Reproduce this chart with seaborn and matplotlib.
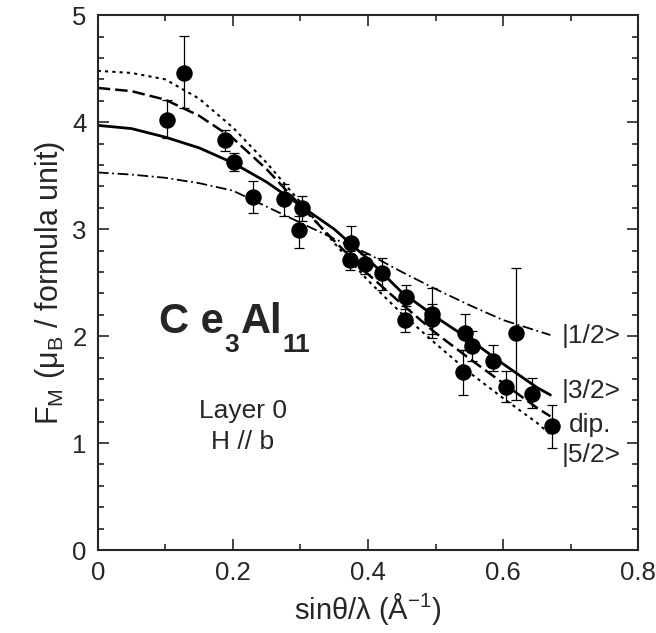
import numpy as np
import pandas as pd
import matplotlib
matplotlib.use("Agg")
import matplotlib.pyplot as plt
import seaborn as sns
from matplotlib.ticker import MultipleLocator

# measured points: x, F_M, upper end of error bar, lower end of error bar
pt_x = [0.103, 0.128, 0.189, 0.201, 0.230, 0.276, 0.302, 0.298, 0.375, 0.373, 0.396, 0.421,
        0.456, 0.454, 0.495, 0.495, 0.543, 0.554, 0.541, 0.585, 0.604, 0.619, 0.642, 0.672]
pt_y = [4.02, 4.46, 3.83, 3.63, 3.30, 3.28, 3.20, 2.99, 2.87, 2.71, 2.67, 2.59,
        2.37, 2.15, 2.21, 2.16, 2.03, 1.91, 1.66, 1.77, 1.52, 2.03, 1.46, 1.16]
pt_hi = [4.21, 4.81, 3.93, 3.71, 3.45, 3.42, 3.31, 3.12, 3.03, 2.80, 2.77, 2.73,
         2.48, 2.25, 2.45, 2.30, 2.21, 2.05, 1.87, 1.92, 1.67, 2.64, 1.61, 1.36]
pt_lo = [3.85, 4.13, 3.73, 3.54, 3.15, 3.12, 3.08, 2.82, 2.72, 2.62, 2.58, 2.43,
         2.28, 2.04, 1.98, 2.02, 1.87, 1.77, 1.45, 1.67, 1.38, 1.40, 1.33, 0.95]

# calculated form factors
curve_x = [0.0, 0.05, 0.1, 0.15, 0.2, 0.25, 0.3, 0.35, 0.4, 0.45, 0.5, 0.55, 0.6, 0.65, 0.67]
half_1 = [3.53, 3.51, 3.48, 3.43, 3.36, 3.21, 3.06, 2.91, 2.77, 2.60, 2.44, 2.29, 2.15, 2.05, 2.01]
half_3 = [3.97, 3.94, 3.86, 3.76, 3.62, 3.44, 3.22, 3.00, 2.72, 2.41, 2.18, 1.97, 1.74, 1.52, 1.45]
dipole = [4.32, 4.29, 4.21, 4.06, 3.85, 3.56, 3.22, 2.89, 2.58, 2.30, 2.03, 1.79, 1.56, 1.33, 1.25]
half_5 = [4.48, 4.46, 4.40, 4.22, 3.95, 3.62, 3.25, 2.87, 2.52, 2.21, 1.93, 1.66, 1.42, 1.19, 1.08]

curve_labels = ["|1/2>", "|3/2>", "dip.", "|5/2>"]
label_x = [0.686, 0.686, 0.698, 0.686]
label_y = [2.0, 1.49, 1.17, 0.89]

sns.set_style("ticks")
plt.rcParams["font.family"] = ["Liberation Sans", "DejaVu Sans"]
plt.rcParams["mathtext.fontset"] = "custom"
plt.rcParams["mathtext.rm"] = "Liberation Sans"
plt.rcParams["mathtext.it"] = "Liberation Sans:italic"

fig = plt.figure(figsize=(6.56, 6.33), dpi=100)
ax = fig.add_axes([0.149, 0.131, 0.824, 0.845])

styles = [(half_1, (0, (6, 2, 1, 2)), 1.3),
          (half_3, "-", 2.0),
          (dipole, (0, (5, 2)), 1.8),
          (half_5, (0, (1.5, 2)), 1.5)]
for vals, ls, lw in styles:
    sns.lineplot(x=curve_x, y=vals, ax=ax, color="black", linestyle=ls, linewidth=lw)

pts = pd.DataFrame({"x": pt_x, "y": pt_y, "hi": pt_hi, "lo": pt_lo})
ax.errorbar(pts["x"], pts["y"], yerr=[pts["y"] - pts["lo"], pts["hi"] - pts["y"]],
            fmt="none", ecolor="black", elinewidth=0.9, capsize=3.5, capthick=0.9)
sns.scatterplot(data=pts, x="x", y="y", ax=ax, color="black", s=120, edgecolor="black",
                zorder=5)

# curve labels at the right end
for lab, xv, yv in zip(curve_labels, label_x, label_y):
    ax.text(xv, yv, lab, fontsize=19, va="center", ha="left")

# compound name, pieced together so the subscripts drop like the original
t1 = ax.text(0.09, 2.03, "C e", fontsize=30, fontweight="bold", ha="left", va="baseline")
t2 = ax.annotate("3", xy=(1, 0), xycoords=t1, xytext=(1, -11), textcoords="offset points",
                 fontsize=19, fontweight="bold", va="bottom")
t3 = ax.annotate("Al", xy=(1, 0), xycoords=t2, xytext=(1, 11), textcoords="offset points",
                 fontsize=30, fontweight="bold", va="bottom")
ax.annotate("11", xy=(1, 0), xycoords=t3, xytext=(0, -11), textcoords="offset points",
            fontsize=19, fontweight="bold", va="bottom")

ax.text(0.215, 1.30, "Layer 0", fontsize=19, ha="center", va="center")
ax.text(0.215, 1.01, "H // b", fontsize=19, ha="center", va="center")

ax.set_xlim(0, 0.8)
ax.set_ylim(0, 5)
ax.xaxis.set_major_locator(MultipleLocator(0.2))
ax.xaxis.set_minor_locator(MultipleLocator(0.1))
ax.yaxis.set_major_locator(MultipleLocator(1))
ax.yaxis.set_minor_locator(MultipleLocator(0.2))
ax.xaxis.set_major_formatter(plt.FuncFormatter(lambda v, p: "0" if v == 0 else f"{v:.1f}"))
ax.tick_params(which="both", direction="in", top=True, right=True, labelsize=18.5, width=1.2)
ax.tick_params(which="major", length=8, pad=8)
ax.tick_params(which="minor", length=4)
for s in ax.spines.values():
    s.set_linewidth(1.5)

ax.set_xlabel(r"sinθ/λ (Å$^{-1}$)", fontsize=21, labelpad=4)
ax.set_ylabel(r"F$_\mathrm{M}$ (μ$_\mathrm{B}$ / formula unit)", fontsize=22, labelpad=4)

fig.savefig("out.png", dpi=100)
